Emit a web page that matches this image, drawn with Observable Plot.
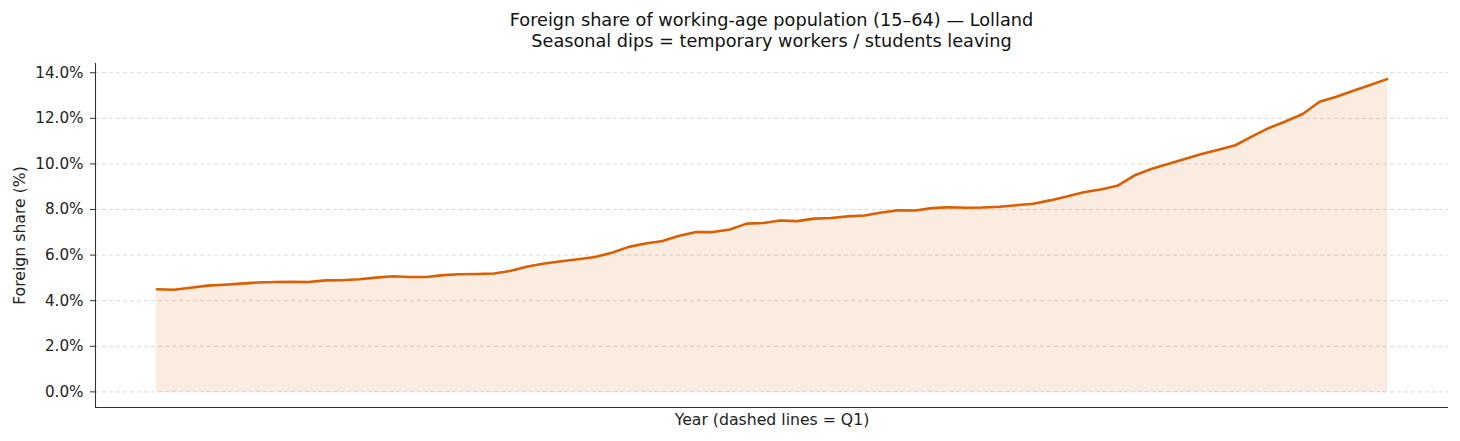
<!DOCTYPE html>
<html>
<head>
<meta charset="utf-8">
<script src="https://cdn.jsdelivr.net/npm/d3@7"></script>
<script src="https://cdn.jsdelivr.net/npm/@observablehq/plot@0.6"></script>
<style>
  html, body { margin: 0; padding: 0; background: #fff; }
  body { width: 1460px; height: 441px; overflow: hidden; font-family: "DejaVu Sans", sans-serif; }
  #title { position: absolute; left: 95px; width: 1353px; top: 10px; text-align: center; font-size: 17.7px; line-height: 21px; color: #111; }
  #chart { position: absolute; left: 0; top: 55px; }
</style>
</head>
<body>
<div id="title">Foreign share of working-age population (15–64) — Lolland<br>Seasonal dips = temporary workers / students leaving</div>
<div id="chart"></div>
<script>
const quarters = [
  "2007Q1","2007Q2","2007Q3","2007Q4","2008Q1","2008Q2","2008Q3","2008Q4",
  "2009Q1","2009Q2","2009Q3","2009Q4","2010Q1","2010Q2","2010Q3","2010Q4",
  "2011Q1","2011Q2","2011Q3","2011Q4","2012Q1","2012Q2","2012Q3","2012Q4",
  "2013Q1","2013Q2","2013Q3","2013Q4","2014Q1","2014Q2","2014Q3","2014Q4",
  "2015Q1","2015Q2","2015Q3","2015Q4","2016Q1","2016Q2","2016Q3","2016Q4",
  "2017Q1","2017Q2","2017Q3","2017Q4","2018Q1","2018Q2","2018Q3","2018Q4",
  "2019Q1","2019Q2","2019Q3","2019Q4","2020Q1","2020Q2","2020Q3","2020Q4",
  "2021Q1","2021Q2","2021Q3","2021Q4","2022Q1","2022Q2","2022Q3","2022Q4",
  "2023Q1","2023Q2","2023Q3","2023Q4","2024Q1","2024Q2","2024Q3","2024Q4",
  "2025Q1","2025Q2"
];
const foreignShare = [
  4.50, 4.48, 4.57, 4.66, 4.70, 4.75, 4.80, 4.82, 4.83, 4.82,
  4.89, 4.90, 4.94, 5.01, 5.07, 5.04, 5.04, 5.12, 5.16, 5.17,
  5.19, 5.31, 5.50, 5.63, 5.73, 5.82, 5.92, 6.10, 6.36, 6.51,
  6.62, 6.85, 7.01, 7.01, 7.12, 7.38, 7.41, 7.52, 7.49, 7.60,
  7.63, 7.70, 7.74, 7.87, 7.97, 7.96, 8.06, 8.10, 8.08, 8.09,
  8.12, 8.19, 8.25, 8.40, 8.57, 8.76, 8.88, 9.04, 9.49, 9.78,
  10.00, 10.22, 10.44, 10.62, 10.82, 11.21, 11.58, 11.87, 12.19, 12.73,
  12.95, 13.21, 13.46, 13.72
];
const yTicks = [0, 2, 4, 6, 8, 10, 12, 14];

const data = quarters.map((q, i) => ({q, i, v: foreignShare[i]}));
const n = data.length;
const xPad = (n - 1) * 0.05;
const vMax = d3.max(foreignShare);
const yPad = vMax * 0.05;
const color = "#d95f02";

const chart = Plot.plot({
  width: 1460,
  height: 386,
  marginLeft: 95,
  marginRight: 12,
  marginTop: 8,
  marginBottom: 34,
  style: {fontFamily: "DejaVu Sans, sans-serif", fontSize: "15px", color: "#222", background: "#fff"},
  x: {type: "linear", domain: [-xPad, n - 1 + xPad], axis: null},
  y: {domain: [-yPad, vMax + yPad], axis: null},
  marks: [
    Plot.gridY(yTicks, {stroke: "#d9d9d9", strokeOpacity: 1, strokeDasharray: "4,3", strokeWidth: 1}),
    Plot.areaY(data, {x: "i", y1: 0, y2: "v", fill: color, fillOpacity: 0.12, stroke: color, strokeOpacity: 0.1, strokeWidth: 1}),
    Plot.lineY(data, {x: "i", y: "v", stroke: color, strokeWidth: 2.6}),
    Plot.axisY(yTicks, {anchor: "left", tickSize: 5, tickPadding: 7, tickFormat: d => d.toFixed(1) + "%", stroke: "#333", fill: "#222", fontSize: 15.2, label: null}),
    Plot.ruleX([-xPad], {stroke: "#333", strokeWidth: 1.1}),
    Plot.ruleY([-yPad], {stroke: "#333", strokeWidth: 1.1}),
    Plot.text(["Foreign share (%)"], {frameAnchor: "left", textAnchor: "middle", dx: -76, rotate: -90, fontSize: 15.7, fill: "#222"}),
    Plot.text(["Year (dashed lines = Q1)"], {frameAnchor: "bottom", dy: 17, fontSize: 15.7, fill: "#222"})
  ]
});
document.getElementById("chart").appendChild(chart);
</script>
</body>
</html>
